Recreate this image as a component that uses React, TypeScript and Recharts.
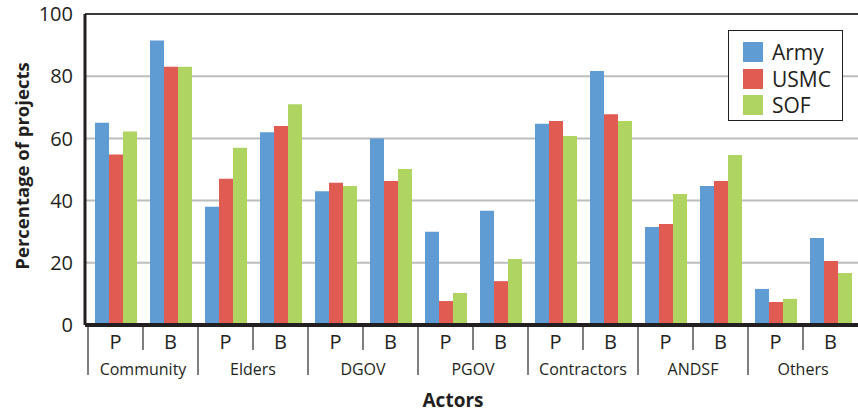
import React from "react";
import {
  BarChart,
  Bar,
  XAxis,
  YAxis,
  CartesianGrid,
  ReferenceLine,
} from "recharts";

const actors = ["Community", "Elders", "DGOV", "PGOV", "Contractors", "ANDSF", "Others"];
const phases = ["P", "B"];
const army = [65, 91.5, 38, 62, 43, 60, 30, 36.7, 64.7, 81.7, 31.5, 44.7, 11.6, 28];
const usmc = [54.8, 83, 47, 64, 45.7, 46.3, 7.7, 14.1, 65.6, 67.8, 32.5, 46.3, 7.4, 20.6];
const sof = [62.2, 83, 57, 71, 44.7, 50.2, 10.3, 21.2, 60.8, 65.6, 42.1, 54.7, 8.4, 16.7];
const yTicks = [0, 20, 40, 60, 80, 100];

const series = [
  { key: "army", name: "Army", color: "#5E9CD3" },
  { key: "usmc", name: "USMC", color: "#E05C52" },
  { key: "sof", name: "SOF", color: "#B0D462" },
];

const data = army.map((_, i) => ({
  actor: actors[Math.floor(i / 2)],
  pb: phases[i % 2],
  army: army[i],
  usmc: usmc[i],
  sof: sof[i],
}));

const FONT = "'Open Sans', 'Noto Sans', sans-serif";
const INK = "#231F20";
const BAND = 55;

function ActorTick(props: any) {
  const { x, y, payload, index } = props;
  const i = payload?.index ?? index;
  const half = BAND / 2;
  return (
    <g>
      <text x={x} y={y + 24} textAnchor="middle" fontSize={20} fontFamily={FONT} fill={INK}>
        {payload.value}
      </text>
      {i % 2 === 0 && (
        <>
          <line x1={x + half} x2={x + half} y1={y + 2} y2={y + 25} stroke="#555" strokeWidth={1.5} />
          <line x1={x - half} x2={x - half} y1={y + 2} y2={y + 50} stroke="#555" strokeWidth={1.5} />
          <text x={x + half} y={y + 50} textAnchor="middle" fontSize={16} fontFamily={FONT} fill={INK}>
            {actors[Math.floor(i / 2)]}
          </text>
        </>
      )}
    </g>
  );
}

function LegendBox() {
  return (
    <div
      style={{
        position: "absolute",
        left: 728,
        top: 30,
        border: `1.5px solid ${INK}`,
        width: 115,
        height: 91,
        padding: "8px 0 0 14px",
        boxSizing: "border-box",
        fontFamily: FONT,
        background: "#fff",
      }}
    >
      {series.map((s) => (
        <div key={s.key} style={{ display: "flex", alignItems: "center", height: 26.5 }}>
          <span style={{ width: 20, height: 20, background: s.color, display: "inline-block" }} />
          <span style={{ marginLeft: 9, fontSize: 21, color: INK, lineHeight: "20px" }}>{s.name}</span>
        </div>
      ))}
    </div>
  );
}

export default function App() {
  return (
    <div style={{ position: "absolute", left: 0, top: 0, width: 858, height: 414, background: "#fff" }}>
      <BarChart
        width={858}
        height={414}
        data={data}
        margin={{ top: 14, right: 0, bottom: 0, left: 0 }}
        barCategoryGap={7}
        barGap={0}
      >
        <CartesianGrid vertical={false} stroke="#BDBDBD" strokeWidth={2} />
        <ReferenceLine y={100} stroke="#3A3A3A" strokeWidth={2} />
        <XAxis
          dataKey="pb"
          interval={0}
          height={89}
          padding={{ left: 3, right: 0 }}
          tickLine={false}
          tickSize={0}
          tickMargin={0}
          axisLine={{ stroke: INK, strokeWidth: 4 }}
          tick={<ActorTick />}
          label={() => (
            <text x={453} y={407} textAnchor="middle" fontSize={19} fontWeight={700} fill={INK} fontFamily={FONT}>
              Actors
            </text>
          )}
        />
        <YAxis
          width={85}
          domain={[0, 100]}
          ticks={yTicks}
          interval={0}
          tickLine={false}
          tickSize={0}
          tickMargin={12}
          axisLine={{ stroke: INK, strokeWidth: 3 }}
          tick={{ fontSize: 20, fill: INK, fontFamily: FONT }}
          label={() => (
            <text
              x={21}
              y={166}
              transform="rotate(-90 21 166)"
              textAnchor="middle"
              dominantBaseline="central"
              fontSize={18.5}
              fontWeight={700}
              fill={INK}
              fontFamily={FONT}
            >
              Percentage of projects
            </text>
          )}
        />
        {series.map((s) => (
          <Bar key={s.key} dataKey={s.key} name={s.name} fill={s.color} isAnimationActive={false} />
        ))}
      </BarChart>
      <LegendBox />
    </div>
  );
}
